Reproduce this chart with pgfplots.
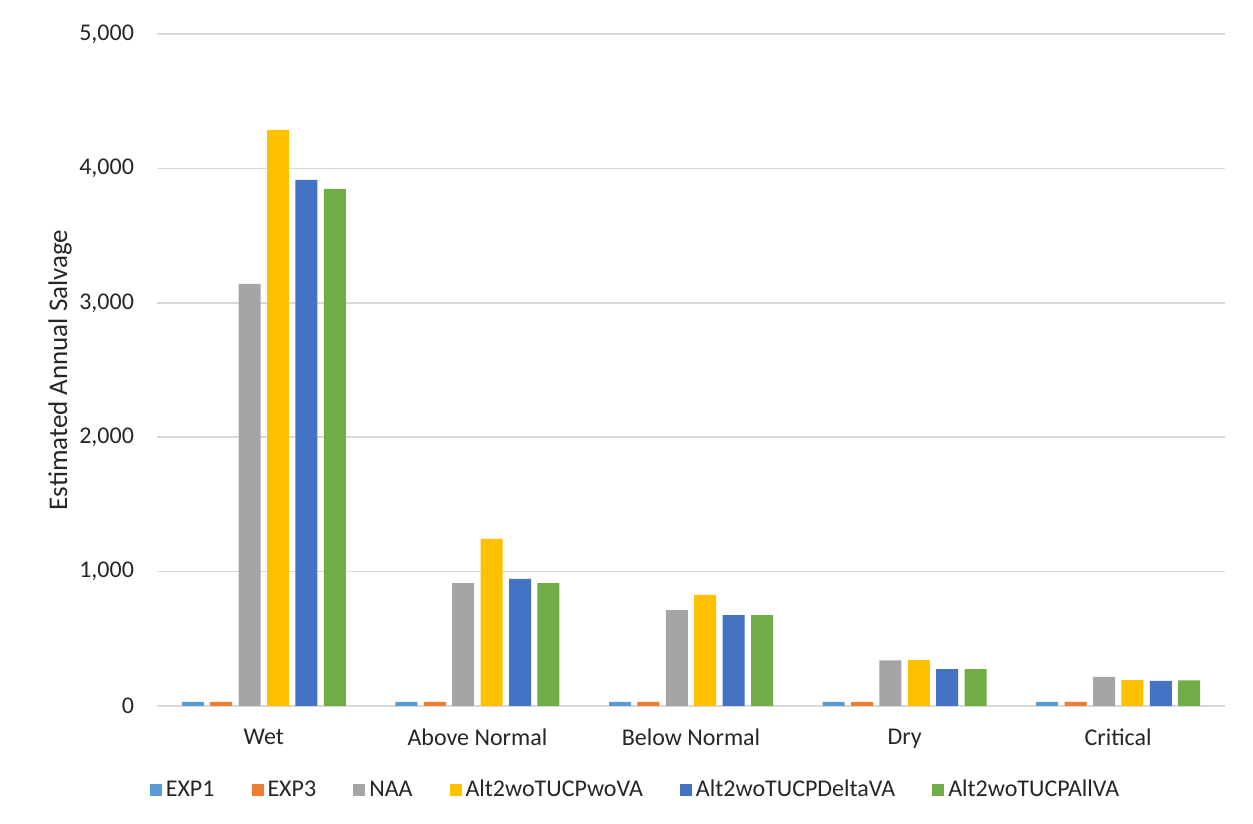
\documentclass[border=0pt]{standalone}
\usepackage{pgfplots}
\pgfplotsset{compat=1.18}
\usepackage{fontspec}
\setmainfont{Carlito}
\definecolor{cexpa}{HTML}{5B9BD5}
\definecolor{cexpb}{HTML}{ED7D31}
\definecolor{cnaa}{HTML}{A5A5A5}
\definecolor{cwova}{HTML}{FFC000}
\definecolor{cdelta}{HTML}{4472C4}
\definecolor{callva}{HTML}{70AD47}
\definecolor{gridc}{HTML}{D9D9D9}
\begin{document}
\begin{tikzpicture}
\useasboundingbox (0pt,0pt) rectangle (626.5pt,412pt);
\begin{axis}[
  at={(78.5pt,59pt)}, anchor=south west,
  scale only axis, width=534pt, height=336pt,
  ybar=3.2pt, bar width=11pt,
  xmin=-0.5, xmax=4.5, ymin=0, ymax=5000,
  xtick=data, xticklabels={Wet,Above Normal,Below Normal,Dry,Critical},
  ytick={0,1000,2000,3000,4000,5000},
  ymajorgrids, grid style={gridc, line width=0.8pt},
  axis x line*=bottom, axis y line*=left,
  x axis line style={gridc, line width=1pt, -},
  y axis line style={draw=none},
  major tick length=0pt,
  tick label style={font=\fontsize{12}{14}\selectfont, text=black!85},
  xticklabel style={yshift=-8pt},
  yticklabel style={xshift=-8pt},
  /pgf/number format/.cd, 1000 sep={,}, assume math mode=true, fixed,
  /pgfplots/.cd,
  ylabel={Estimated Annual Salvage},
  ylabel style={font=\fontsize{13.5}{15}\selectfont, text=black!85, at={(axis description cs:-0.0908,0.5)}, anchor=center},
  legend style={draw=none, font=\fontsize{12}{14}\selectfont, text=black!85, at={(0.449,-0.125)}, anchor=center, legend columns=-1, /tikz/every even column/.append style={column sep=16.5pt}},
  legend image code/.code={\fill[#1] (0pt,-3pt) rectangle (6pt,3pt);},
]
\addplot[fill=cexpa, draw=none] coordinates {(0,30) (1,30) (2,30) (3,30) (4,30)};
\addplot[fill=cexpb, draw=none] coordinates {(0,30) (1,30) (2,30) (3,30) (4,30)};
\addplot[fill=cnaa, draw=none] coordinates {(0,3140) (1,915) (2,714) (3,340) (4,216)};
\addplot[fill=cwova, draw=none] coordinates {(0,4286) (1,1243) (2,826) (3,342) (4,193)};
\addplot[fill=cdelta, draw=none] coordinates {(0,3914) (1,945) (2,677) (3,275) (4,186)};
\addplot[fill=callva, draw=none] coordinates {(0,3847) (1,915) (2,677) (3,275) (4,190)};
\legend{EXP1,EXP3,NAA,Alt2woTUCPwoVA,Alt2woTUCPDeltaVA,Alt2woTUCPAllVA}
\end{axis}
\end{tikzpicture}
\end{document}
